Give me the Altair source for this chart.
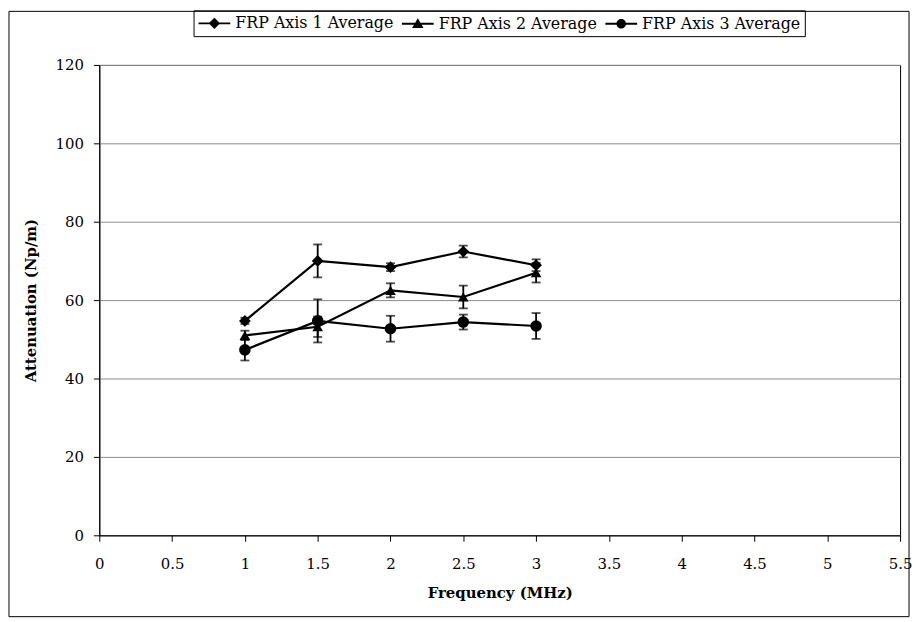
import altair as alt
import pandas as pd

freq = [1, 1.5, 2, 2.5, 3]
series_names = ["FRP Axis 1 Average", "FRP Axis 2 Average", "FRP Axis 3 Average"]
axis1 = [54.7, 70.0, 68.4, 72.4, 68.9]
err1 = [0.8, 4.2, 1.0, 1.5, 1.5]
axis2 = [51.0, 53.2, 62.5, 60.8, 67.0]
err2 = [1.2, 2.6, 1.8, 2.9, 2.5]
axis3 = [47.3, 54.7, 52.7, 54.4, 53.4]
err3 = [2.7, 5.5, 3.3, 1.9, 3.3]
x_ticks = [0, 0.5, 1, 1.5, 2, 2.5, 3, 3.5, 4, 4.5, 5, 5.5]
y_ticks = [0, 20, 40, 60, 80, 100, 120]
marker_shapes = ["diamond", "triangle-up", "circle"]
marker_sizes = [140, 115, 135]

rows = []
for name, vals, errs in zip(series_names, [axis1, axis2, axis3], [err1, err2, err3]):
    for f, v, e in zip(freq, vals, errs):
        rows.append({"freq": f, "att": v, "lo": v - e, "hi": v + e, "series": name})
df = pd.DataFrame(rows)

FONT = "DejaVu Serif"

x_axis = alt.Axis(values=x_ticks, title="Frequency (MHz)", grid=False, tickSize=6,
                  labelPadding=15, titlePadding=15, labelFlush=False, format="~g")
y_axis = alt.Axis(values=y_ticks, title="Attenuation (Np/m)", grid=True, gridColor="#8c8c8c",
                  gridWidth=1, tickSize=6, labelPadding=10, titlePadding=17)
xs = alt.Scale(domain=[0, 5.5], nice=False, zero=False)
ys = alt.Scale(domain=[0, 120], nice=False)

x = alt.X("freq:Q", scale=xs, axis=x_axis)
y = alt.Y("att:Q", scale=ys, axis=y_axis)

base = alt.Chart(df)

lines = base.mark_line(color="black", strokeWidth=2.2).encode(
    x=x, y=y, detail="series:N"
)

errs = base.mark_errorbar(ticks={"size": 9, "thickness": 1.8}, color="black", thickness=1.8).encode(
    x=x, y=alt.Y("lo:Q", scale=ys, axis=y_axis), y2="hi:Q"
)

point_layers = []
for name, shp, sz in zip(series_names, marker_shapes, marker_sizes):
    point_layers.append(
        base.transform_filter(alt.datum.series == name)
        .mark_point(filled=True, color="black", opacity=1, shape=shp, size=sz)
        .encode(x=x, y=y)
    )

# legend glyphs: a filled bar (the line) plus the marker, all drawn clockwise
legend_paths = [
    "M-1,-0.12L3,-0.12L3,0.12L-1,0.12ZM1,-0.72L1.72,0L1,0.72L0.28,0Z",
    "M-1,-0.12L3,-0.12L3,0.12L-1,0.12ZM1,-0.7L1.72,0.52L0.28,0.52Z",
    "M-1,-0.12L3,-0.12L3,0.12L-1,0.12ZM0.4,0A0.6,0.6,0,1,1,1.6,0A0.6,0.6,0,1,1,0.4,0Z",
]

legend_layer = base.mark_point(
    filled=True, fill="black", opacity=0
).encode(
    x=x, y=y,
    shape=alt.Shape("series:N",
                    scale=alt.Scale(domain=series_names, range=legend_paths),
                    legend=alt.Legend(title=None, orient="none", legendX=95, legendY=-55,
                                      direction="horizontal", strokeColor="black", padding=4,
                                      labelFont=FONT, labelFontSize=16, labelColor="black",
                                      symbolSize=256, columnPadding=5, labelOffset=20,
                                      labelLimit=400, symbolOpacity=1,
                                      symbolFillColor="black")),
)

border = alt.Chart(pd.DataFrame({"a": [0]})).mark_rect(
    filled=False, stroke="black", strokeWidth=1
).encode(x=alt.value(-91), x2=alt.value(816), y=alt.value(-54), y2=alt.value(556))

chart = alt.layer(border, lines, errs, *point_layers, legend_layer).properties(
    width=807, height=474,
    autosize=alt.AutoSizeParams(type="none"),
    padding={"left": 92, "top": 55, "right": 12, "bottom": 84},
).configure_view(
    stroke="black", strokeWidth=1
).configure_axis(
    labelFont=FONT, labelFontSize=15, labelColor="black",
    titleFont=FONT, titleFontSize=15, titleFontWeight="bold", titleColor="black",
    domainColor="black", tickColor="black", domainWidth=1, tickWidth=1
)

chart.save("out.html", embed_options={"renderer": "svg", "actions": False})
